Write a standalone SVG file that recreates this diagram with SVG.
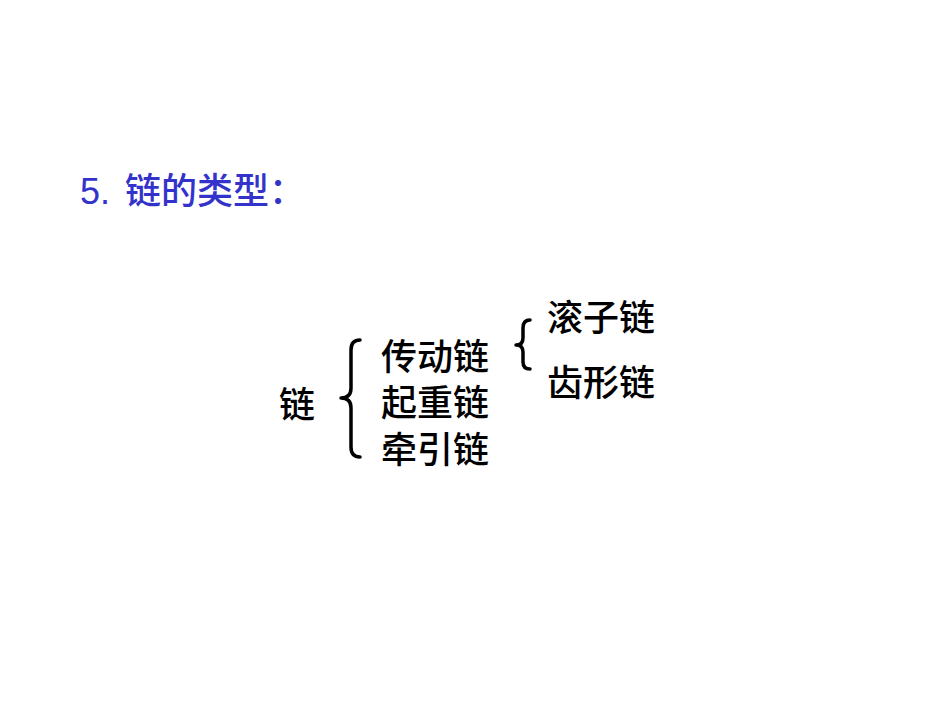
<svg xmlns="http://www.w3.org/2000/svg" width="950" height="713" viewBox="0 0 950 713">
<style>
.t{font-family:"Noto Sans CJK SC",sans-serif;font-size:36px;font-weight:500;fill:#000}
.title{font-family:"Liberation Sans","Noto Sans CJK SC",sans-serif;font-size:36px;font-weight:500;fill:#3333CC}
.br{fill:none;stroke:#000;stroke-width:3.5;stroke-linecap:round;stroke-linejoin:round}
</style>
<rect width="950" height="713" fill="#fff"/>
<g id="title"><text class="title" y="204"><tspan x="80">5.</tspan><tspan x="125">链的类型：</tspan></text></g>
<g id="root"><text class="t" x="279" y="418">链</text></g>
<g id="n1"><text class="t" x="381" y="370">传动链</text></g>
<g id="n2"><text class="t" x="381" y="416">起重链</text></g>
<g id="n3"><text class="t" x="381" y="463">牵引链</text></g>
<g id="n4"><text class="t" x="547" y="331">滚子链</text></g>
<g id="n5"><text class="t" x="547" y="396">齿形链</text></g>
<g id="connectors">
<path class="br" d="M360,340 Q351,340 351,350 L351,388 Q351,398 341,398 Q351,398 351,408 L351,447 Q351,457 360,457"/>
<path class="br" d="M530,320 Q523,320 523,328 L523,338 Q523,345 516,345 Q523,345 523,352 L523,362 Q523,369 530,369"/>
</g>
</svg>
